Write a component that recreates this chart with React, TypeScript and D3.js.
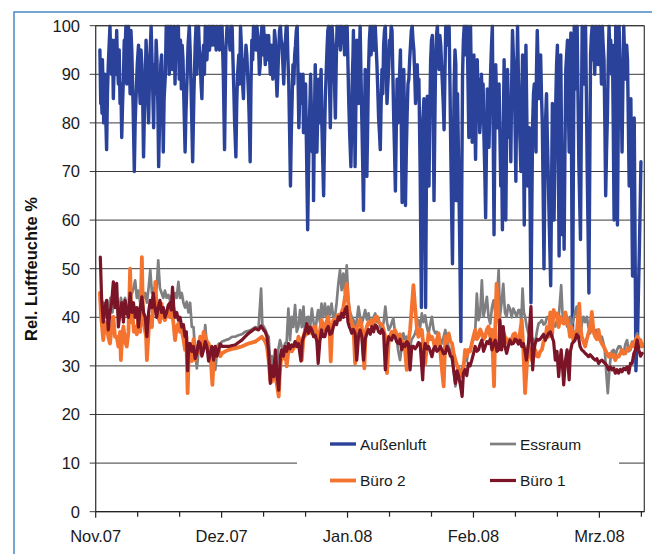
import React from 'react';
import * as d3 from 'd3';

// x values are days after 1 Nov 2007
const monthLabels = ['Nov.07', 'Dez.07', 'Jan.08', 'Feb.08', 'Mrz.08'];
const monthTickDays = [0, 30, 60, 90, 120];
const minorTickDays = [0, 10, 20, 30, 40, 50, 60, 70, 80, 90, 100, 110, 120, 130];
const yTicks = [0, 10, 20, 30, 40, 50, 60, 70, 80, 90, 100];
const seriesNames = ['Außenluft', 'Essraum', 'Büro 2', 'Büro 1'];
const seriesColors = ['#2a429a', '#7f7f82', '#f4732f', '#7b1426'];

const aussenluft: [number, number][] = [
  [1.0,95],[1.2,84],[1.3,88],[1.5,82],[1.6,93],[1.8,86],[1.9,80],[2.2,90],[2.4,81],[2.6,74.5],[2.8,86],[3.0,92],[3.2,96],[3.4,100],[3.6,92],[3.8,90],[4.0,97],[4.2,85],[4.4,92],[4.6,97],[4.8,90],[5.0,99],[5.2,92],[5.4,88],[5.6,95],[5.8,84],[6.0,88],[6.2,77],[6.4,84],[6.6,89],[6.8,97],[7.0,95],[7.2,100],[7.4,88],[7.6,96],[7.8,100],[8.0,93],[8.2,86],[8.4,99],[8.6,95],[8.9,84],[9.2,70],[9.4,80],[9.6,85],[9.9,92],[10.2,96],[10.4,88],[10.6,84],[10.8,95],[11.0,92],[11.2,85],[11.4,73],[11.6,82],[11.8,88],[12.0,97],[12.2,92],[12.4,86],[12.6,80],[12.9,93],[13.2,100],[13.5,90],[13.8,79],[14.0,92],[14.2,86],[14.4,97],[14.6,93],[14.8,84],[15.0,71],[15.2,80],[15.4,85],[15.5,92],[15.7,94],[15.9,86],[16.1,74],[16.3,85],[16.6,90],[16.8,100],[17.0,97],[17.3,100],[17.5,90],[17.7,92],[17.9,100],[18.1,99],[18.3,91],[18.5,96],[18.7,100],[18.9,88],[19.1,97],[19.3,95],[19.5,100],[19.7,100],[19.9,89],[20.0,93],[20.2,97],[20.4,87],[20.6,96],[20.8,93],[21.0,85],[21.3,74],[21.5,82],[21.8,90],[22.0,96],[22.3,100],[22.5,95],[22.7,88],[22.9,80],[23.1,72],[23.4,86],[23.7,96],[23.9,100],[24.1,90],[24.3,98],[24.5,100],[24.7,95],[24.9,93],[25.1,88],[25.3,85],[25.5,93],[25.7,96],[25.9,90],[26.1,100],
  [26.3,97],[26.5,93],[26.7,98],[26.9,100],[27.1,95],[27.3,97],[27.5,100],[27.7,96],[27.9,99],[28.1,100],[28.3,96],[28.5,99],[28.7,95],[28.9,100],[29.1,97],[29.3,98],[29.5,95],[29.7,100],[29.9,97],[30.1,100],[30.4,90],[30.7,74.5],[31.0,95],[31.3,100],[31.5,97],[31.8,98],[32.0,95],[32.2,100],[32.5,100],[32.7,93],[32.9,87],[33.1,80],[33.4,73],[33.6,84],[33.8,90],[34.1,94],[34.3,88],[34.5,100],[34.7,96],[34.9,92],[35.0,88],[35.2,85],[35.4,93],[35.6,91],[35.8,96],[36.0,94],[36.2,90],[36.4,86],[36.6,80],[36.8,72],[37.0,88],[37.2,97],[37.4,93],[37.6,100],[37.8,97],[38.0,99],[38.2,95],[38.4,100],[38.6,98],[38.8,96],[39.0,90],[39.2,92],[39.4,97],[39.6,100],[39.8,94],[40.0,100],[40.2,96],[40.4,92],[40.6,98],[40.8,97],[41.0,93],[41.2,98],[41.4,94],[41.6,90],[41.8,96],[42.0,95],[42.2,89],[42.4,92],[42.6,99],[42.8,97],[43.0,90],[43.2,85.5],[43.4,90],[43.6,95],[43.8,99],[44.0,100],[44.2,97],[44.4,96],[44.6,92],[44.8,88],[45.0,94],[45.2,97],[45.4,100],[45.6,100],[45.8,93],[46.0,88],[46.2,78],[46.4,67],[46.6,78],[46.8,85],[47.0,92],[47.2,88],[47.4,94],[47.6,96],[47.8,99],[48.0,100],[48.2,90],[48.4,79],[48.6,85],[48.8,90],[49.0,87],[49.2,84],[49.4,90],[49.5,78],[49.7,86],[49.8,83],[50.0,88],[50.2,76],[50.5,58],[50.7,70],[50.9,80],[51.1,86],[51.2,90],[51.4,82],[51.6,74],[51.8,80],[51.9,64],[52.1,80],[52.3,92],
  [52.5,84],[52.7,74],[52.9,82],[53.1,89],[53.3,80],[53.5,86],[53.7,91],[53.9,79],[54.1,72],[54.3,65],[54.5,76],[54.7,85],[54.9,90],[55.1,95],[55.3,99],[55.5,100],[55.7,88],[55.9,79],[56.1,90],[56.3,100],[56.5,97],[56.7,95],[56.9,88],[57.1,81],[57.3,92],[57.5,100],[57.7,98],[57.9,96],[58.1,100],[58.3,95],[58.5,99],[58.7,100],[58.9,97],[59.1,98],[59.3,94],[59.5,100],[59.7,97],[59.9,100],[60.1,92],[60.3,84],[60.5,78],[60.8,71],[61.0,80],[61.1,88],[61.3,94],[61.4,99],[61.6,85],[61.8,71],[62.0,85],[62.2,97],[62.4,90],[62.6,84],[62.8,93],[63.0,100],[63.2,90],[63.4,81],[63.6,72],[63.8,62],[64.0,78],[64.2,91],[64.4,80],[64.6,69],[64.8,80],[65.0,91],[65.2,97],[65.4,100],[65.6,94],[65.8,97],[66.0,100],[66.2,95],[66.4,99],[66.6,100],[66.8,96],[67.0,92],[67.2,87],[67.4,81],[67.6,78],[67.8,74.5],[68.0,84],[68.2,91],[68.4,86],[68.6,96],[68.8,99],[69.0,100],[69.2,92],[69.4,84],[69.6,88],[69.8,91],[70.0,97],[70.2,96],[70.4,100],[70.6,99],[70.8,90],[71.0,81],[71.2,74],[71.4,66],[71.6,78],[71.8,89],[72.0,80],[72.2,84],[72.4,90],[72.6,95],[72.8,80],[73.0,63.6],[73.2,78],[73.4,91],[73.6,78],[73.8,63],[74.0,74],[74.2,82],[74.4,88],[74.6,89],[74.8,93],[75.0,96],[75.2,99],[75.4,100],[75.6,97],[75.8,95],[76.0,90],[76.2,84],[76.4,88],[76.6,92],[76.8,85],[77.0,89],[77.3,70],[77.6,42],[77.9,80],[78.2,85],[78.4,70],[78.6,42],
  [78.8,70],[79.0,85.5],[79.2,78],[79.4,67],[79.6,82],[79.8,93],[80.0,97],[80.2,98],[80.4,82],[80.6,64],[80.8,80],[81.0,94],[81.2,98],[81.4,100],[81.6,95],[81.8,91],[82.0,98],[82.2,96],[82.4,92],[82.6,88],[82.8,84],[83.0,78.6],[83.2,90],[83.4,100],[83.6,96],[83.8,97],[84.0,100],[84.2,100],[84.4,88],[84.6,74],[84.8,62],[85.0,51],[85.2,72],[85.4,88],[85.6,95],[85.8,92],[85.9,64],[86.0,75],[86.2,86],[86.4,75],[86.6,63],[86.8,50],[87.0,35],[87.2,65],[87.4,90],[87.6,97],[87.8,100],[88.0,94],[88.1,96],[88.3,100],[88.5,100],[88.7,88],[88.9,77],[89.1,90],[89.3,100],[89.5,88],[89.7,76],[89.9,86],[90.1,94],[90.3,82],[90.5,72.5],[90.7,84],[90.9,93],[91.1,85],[91.3,89],[91.5,78],[91.7,81],[91.9,90],[92.1,84],[92.3,88],[92.5,77],[92.7,70],[92.9,60.5],[93.1,75],[93.3,87],[93.5,80],[93.7,75],[93.9,84],[94.1,91],[94.3,96],[94.5,100],[94.7,78],[94.9,57],[95.1,78],[95.3,92],[95.5,85],[95.7,79],[95.9,84],[96.1,88],[96.3,78],[96.5,67],[96.7,74],[96.9,58],[97.1,78],[97.3,93],[97.5,76],[97.7,60],[97.9,78],[98.1,91],[98.3,84],[98.5,77],[98.7,84],[98.9,72],[99.1,88],[99.3,99],[99.5,94],[99.7,91],[99.9,80],[100.1,68],[100.3,86],[100.5,100],[100.7,90],[100.9,81],[101.1,76],[101.3,70],[101.5,84],[101.7,94],[101.9,78],[102.1,59],[102.3,80],[102.5,96],[102.7,82],[102.9,67],[103.1,73],[103.3,79],[103.5,62],[103.7,43],[103.9,62],[104.1,80],[104.3,86],[104.5,88],[104.7,80],[104.9,74],
  [105.0,90],[105.2,99],[105.4,92],[105.6,85],[105.8,90],[106.0,94],[106.2,86],[106.4,80],[106.6,66],[106.8,50],[107.0,68],[107.2,81],[107.4,86],[107.6,77],[107.8,70],[108.0,61.5],[108.2,54],[108.4,46.5],[108.6,66],[108.8,84],[109.0,72],[109.2,60],[109.4,72],[109.6,84],[109.8,92],[110.0,96],[110.2,76],[110.4,52.6],[110.6,75],[110.8,94],[111.0,75],[111.2,57],[111.4,70],[111.6,54],[111.8,75],[112.0,91],[112.2,94],[112.4,97],[112.6,84],[112.8,74],[113.0,88],[113.2,98.5],[113.4,68],[113.6,36],[113.8,70],[114.0,100],[114.2,92],[114.3,87],[114.5,95],[114.7,100],[114.9,86],[115.1,72],[115.3,64],[115.5,56],[115.7,80],[115.9,100],[116.1,94],[116.3,88],[116.5,95],[116.7,100],[116.9,86],[117.1,70],[117.3,58],[117.5,45],[117.7,70],[117.9,94],[118.1,98],[118.3,100],[118.5,93],[118.7,96],[118.9,90],[119.1,100],[119.3,94],[119.5,97],[119.7,92],[119.9,100],[120.1,96],[120.3,94],[120.5,88],[120.7,100],[120.9,96],[121.1,93],[121.3,80],[121.5,65],[121.7,74],[121.9,81],[122.1,92],[122.3,100],[122.5,95],[122.7,97],[122.9,90],[123.1,96],[123.3,80],[123.5,60],[123.7,80],[123.9,100],[124.1,80],[124.3,59],[124.5,80],[124.7,100],[124.9,92],[125.1,84],[125.3,80],[125.4,74],[125.6,88],[125.8,100],[126.0,94],[126.3,89],[126.5,96],[126.7,93],[126.9,80],[127.1,67],[127.3,76],[127.5,85],[127.7,66],[127.9,48.5],[128.1,66],[128.3,81],[128.5,55],[128.7,29],[128.9,34],[129.1,36],[129.3,45],[129.5,53],[129.7,62],[129.9,72]
];

const essraum: [number, number][] = [
  [1.0,44],[1.5,41],[2.0,43],[2.5,40],[3.0,42],[3.5,44],[4.0,41],[4.5,45],[5.0,43],[5.5,40],[6.0,44],[6.5,42],[7.0,44],[7.5,41],[8.0,43],[8.5,44.5],[9.0,46],[9.4,47.6],[9.8,44],[10.2,45.5],[10.6,43],[11.0,46],[11.4,44],[11.8,45],[12.2,43],[12.6,46],[13.0,49.7],[13.4,45],[13.8,46],[14.2,44],[14.6,47],[14.9,51.7],[15.3,46],[15.7,45],[16.1,44],[16.5,45.5],[16.9,44],[17.3,44.6],[17.7,43.5],[18.1,44.5],[18.5,43],[18.9,45],[19.3,44],[19.7,47.3],[20.1,44],[20.5,45],[20.9,43],[21.3,42],[21.7,43.2],[22.1,41],[22.5,43],[22.9,38],[23.3,38],[23.7,33],[24.1,29.5],[24.5,33],[24.9,35.3],[25.3,33],[25.7,34.5],[26.1,38.4],[26.5,34],[26.9,33],[27.3,32.6],[27.7,34],[28.1,31],[28.5,29.2],[28.9,33],[29.3,34.6],[29.7,34.6],[30.1,35],[30.9,35.3],[31.7,35.5],[32.5,36],[33.2,36],[34.0,36.3],[34.8,36.5],[35.6,37],[36.4,37.2],[37.2,37.5],[38.0,38],[38.8,37.8],[39.4,45.9],[39.7,38.5],[40.0,38.1],[40.4,37.5],[40.8,36.5],[41.2,36],[41.6,30],[42.0,32],[42.4,29],[42.8,31],[43.2,30],
  [43.5,33.3],[43.9,35.3],[44.3,34],[44.7,33],[45.1,34.6],[45.5,35],[45.9,41.8],[46.3,35.3],[46.7,40.1],[47.1,38],[47.5,42.5],[47.9,37],[48.3,38.1],[48.7,41.5],[49.1,38],[49.5,42.2],[49.9,36],[50.3,40],[50.7,40.1],[51.1,38],[51.5,41.8],[51.9,39],[52.3,36.7],[52.7,40],[53.0,41.5],[53.4,39],[53.8,42.8],[54.2,40],[54.6,42.8],[55.0,40],[55.4,42.2],[55.8,40.5],[56.2,42.8],[56.6,40],[57.0,40.1],[57.4,43],[57.8,46.9],[58.2,49.7],[58.6,45.6],[59.0,49],[59.4,44.9],[59.8,50.7],[60.2,43.5],[60.6,41],[61.0,40.1],[61.4,39.5],[61.8,38.1],[62.2,39.5],[62.6,42.2],[63.0,40],[63.4,38.7],[63.8,40],[64.2,41.5],[64.6,39.5],[65.0,40.8],[65.4,39],[65.8,38.7],[66.2,40],[66.6,40.8],[67.0,39],[67.4,39.8],[67.8,38],[68.2,37.4],[68.6,39],[69.0,42.2],[69.4,39],[69.8,37.4],[70.2,38],[70.9,39.8],[71.3,37],[71.7,35.3],[72.1,33],[72.5,31.2],[72.9,34],[73.3,36.7],[73.7,35.5],[74.1,36],[74.5,35],[74.9,34],[75.3,35.5],[75.7,36],[76.1,36.7],[76.5,38],[76.9,39.4],[77.3,38],[77.7,40.8],[78.1,39],[78.5,40.4],[78.9,38],[79.3,36.7],[79.7,38.5],[80.1,40.1],[80.5,37.5],[80.9,36.7],[81.3,37],[81.7,36],[82.1,35.5],[82.5,34.6],[82.9,36],[83.3,37.4],[83.7,35],[84.1,34],[84.5,33],[84.9,31.2],[85.3,29],[85.7,25.8],[86.1,28],[86.5,29.9],[86.9,28],[87.3,29.5],
  [87.6,30.5],[88.0,31.2],[88.4,31],[88.8,33.3],[89.2,33],[89.6,34.6],[90.0,35.5],[90.4,36.7],[90.8,44.9],[91.2,39.4],[91.6,40.5],[92.0,47.6],[92.4,40.1],[92.8,42],[93.2,44.2],[93.6,40],[94.0,38.7],[94.4,42],[94.8,43.5],[95.2,41],[95.6,43.5],[96.0,49.7],[96.3,40.1],[96.7,43],[97.1,46.9],[97.5,41],[97.9,40.1],[98.3,42.5],[98.7,41.8],[99.1,40],[99.5,41.8],[99.9,41],[100.3,40.1],[100.7,41.5],[101.1,41.5],[101.4,39],[101.7,45.9],[102.0,41],[102.3,40.1],[102.7,38],[103.1,36.7],[103.5,37.5],[103.8,36],[104.2,35.5],[104.7,34.6],[105.1,37],[105.5,38.7],[105.9,39],[106.3,39.4],[106.7,38.5],[107.1,38.7],[107.5,40],[107.9,40.1],[108.3,39],[108.7,39.1],[109.1,38.5],[109.5,38.1],[109.9,39.5],[110.3,40.1],[110.6,43],[110.9,46.6],[111.2,41],[111.5,38.7],[111.9,39.5],[112.3,38.1],[112.7,39],[113.0,40.1],[113.4,38.5],[113.8,39.4],[114.2,41],[114.6,42.2],[115.0,38],[115.4,36],[115.8,38.5],[116.2,40.1],[116.6,39],[117.0,40.1],[117.4,38],[117.8,36.7],[118.2,38],[118.6,38.1],[119.0,36.5],[119.4,37.4],[119.8,36],[120.2,35.3],[120.6,36],[121.0,34.6],[121.3,33],[121.6,29.2],[122.0,24.4],[122.3,28],[122.6,31.2],[123.0,33],[123.4,33.3],[123.8,32],[124.2,33.3],[124.6,34],[125.0,34],[125.4,32.5],[125.8,32.6],[126.2,34.5],[126.6,35.3],[127.0,33],[127.4,33.3],[127.8,35],[128.2,34.6],[128.6,35.5],[129.0,36.7],[129.4,34],[129.8,34],[130.2,34.6]
];

const buero2: [number, number][] = [
  [1.0,45],[1.3,40],[1.8,35.3],[2.2,39],[2.6,38.1],[3.0,36],[3.4,34.6],[3.8,38],[4.2,40.1],[4.6,36],[5.0,36],[5.4,34],[5.8,37],[6.0,31.2],[6.3,36],[6.6,38.1],[7.0,35],[7.4,34],[7.8,37],[8.2,50],[8.5,39],[8.8,40.1],[9.1,37],[9.4,38.1],[9.8,36.5],[10.2,40.1],[10.6,37],[11.0,52.4],[11.3,39],[11.6,38.1],[12.0,36],[12.2,31.2],[12.6,37],[13.0,40.1],[13.4,38],[13.7,44.2],[14.0,42],[14.2,47.3],[14.6,41],[14.9,40.1],[15.3,39],[15.7,42.8],[16.1,40],[16.5,39.4],[16.9,40.5],[17.3,42.2],[17.7,40],[18.1,41.5],[18.5,39],[18.9,35.3],[19.3,38],[19.7,38.7],[20.1,37],[20.5,37.4],[20.9,35.5],[21.3,33.3],[21.6,36],[21.9,24.4],[22.2,33],[22.5,33.3],[22.9,31],[23.3,35.5],[23.7,31.2],[24.1,34],[24.5,32.6],[24.9,36],[25.3,33.3],[25.7,37],[26.1,36],[26.5,35],[26.9,34.6],[27.3,33],[27.8,26.1],[28.1,31],[28.5,31.9],[28.9,34],[29.3,33.3],[29.7,32],[30.1,32.6],[30.9,33],[31.7,33.3],[32.5,33.5],[33.2,33.6],[34.0,33.8],[34.8,34],[35.6,34.3],[36.4,34.6],[37.2,34.8],[38.0,35],[38.8,35.5],[39.6,36],[40.0,35.5],[40.4,35],[40.8,34],[41.2,31.2],[41.6,27],[42.0,26.8],[42.4,28],[42.8,27.8],[43.2,26],[43.6,23.7],[43.9,29],
  [44.3,32.6],[44.7,31.5],[45.1,33.3],[45.5,29.9],[45.9,33],[46.3,34],[46.7,33],[47.1,33.5],[47.5,34.6],[47.9,34],[48.3,36],[48.7,35],[49.1,31.2],[49.5,36],[49.9,37.4],[50.3,36.5],[50.7,38.1],[51.1,37],[51.5,36.7],[51.9,38],[52.3,38.1],[52.7,36.5],[53.0,33.3],[53.4,37],[53.8,39.4],[54.2,38.5],[54.6,37.4],[55.0,39],[55.4,40.1],[55.7,38],[56.0,30.9],[56.3,37],[56.6,39.4],[57.0,39],[57.4,40.1],[57.8,40.5],[58.2,39.5],[58.6,41.1],[59.0,42],[59.4,44.2],[59.8,46.9],[60.2,42.8],[60.6,40],[61.0,38.7],[61.4,38],[61.8,30.5],[62.2,37],[62.6,38.7],[63.0,39.5],[63.4,38.1],[64.0,29.5],[64.3,37],[64.6,38.1],[65.0,39],[65.4,38.5],[65.8,39.4],[66.2,38.7],[66.6,40],[67.0,40.1],[67.4,39],[67.8,38.7],[68.2,38.5],[68.6,37.4],[69.0,36],[69.4,28.5],[69.8,35],[70.1,36],[70.5,37],[70.9,36.7],[71.3,37.4],[71.7,36.5],[72.1,36],[72.5,36.5],[72.9,34.6],[73.3,35],[73.7,33.3],[74.1,29.2],[74.5,35],[74.9,37.4],[75.3,42],[75.7,46.6],[76.0,43],[76.3,40.1],[76.6,37],[76.9,36],[77.3,37.4],[77.7,37.4],[78.1,34],[78.5,30.5],[78.9,34],[79.3,36.7],[79.7,35.5],[80.1,36],[80.5,35],[80.9,33.3],[81.3,35.5],[81.7,36.7],[82.1,33],[82.5,29.2],[82.9,25.8],[83.3,36],[83.7,35],[84.1,36.7],[84.5,35],[84.9,34.6],[85.3,32.5],[85.7,31.2],[86.1,30],[86.5,29.2],[86.9,28],[87.3,27.8],
  [87.6,29.2],[88.0,33.3],[88.4,32],[88.8,33.3],[89.2,33],[89.6,34.6],[90.0,36],[90.4,37.4],[90.8,35.5],[91.2,36],[91.6,37.5],[92.0,36.7],[92.4,35.5],[92.8,36],[93.2,37.5],[93.6,38.1],[94.0,36],[94.4,37.4],[94.9,25.8],[95.2,38],[95.5,46.9],[95.8,43],[96.0,40.1],[96.3,38],[96.7,36.7],[97.1,37],[97.5,36],[97.9,35.5],[98.3,34.6],[98.7,35.5],[99.1,35.3],[99.5,36.5],[99.9,36.7],[100.3,35],[100.7,35.3],[101.1,37],[101.5,39.4],[101.9,33],[102.3,24.4],[102.7,30],[103.1,34],[103.5,33],[103.9,31.2],[104.3,32],[104.7,33.3],[105.1,32],[105.5,31.9],[105.9,33],[106.3,33.3],[106.7,35],[107.1,35.3],[107.5,38],[107.9,36],[108.3,41],[108.7,36],[109.1,41.5],[109.5,40.1],[109.9,40.8],[110.3,38],[110.7,40.1],[111.1,39],[111.5,38.7],[111.9,41],[112.3,39.4],[112.7,38],[113.0,36],[113.4,38],[113.8,35.3],[114.2,37],[114.6,36.7],[115.2,42.8],[115.5,38],[115.8,36],[116.2,35],[116.6,34],[117.0,35.5],[117.4,36.7],[117.8,38],[118.2,41.1],[118.6,37],[119.0,36],[119.4,35.5],[119.8,37.4],[120.2,35.3],[120.6,34.6],[121.0,34],[121.4,33.3],[121.8,32.6],[122.2,31.9],[122.6,32.5],[123.0,31.9],[123.4,32.3],[123.8,31.2],[124.2,32],[124.6,31.9],[125.0,32.6],[125.4,33.3],[125.8,32.5],[126.2,32.6],[126.6,33.5],[127.0,33.3],[127.4,33.8],[127.8,34.6],[128.2,34],[128.6,35.3],[129.0,36],[129.4,35.5],[129.8,35.3],[130.2,34]
];

const buero1: [number, number][] = [
  [1.1,52.4],[1.4,44],[1.8,39],[2.2,42],[2.6,43.5],[3.0,37.4],[3.4,41],[3.8,43],[4.2,47.3],[4.6,42],[5.0,47],[5.4,38],[5.8,41],[6.2,43],[6.6,39],[7.0,43.5],[7.4,41],[7.8,40],[8.2,45],[8.6,41],[9.0,43],[9.4,40],[9.8,42],[10.2,38],[10.6,42],[11.0,44.2],[11.4,41],[11.8,40],[12.2,36],[12.6,41],[13.0,43.5],[13.4,42],[13.7,45],[14.1,42],[14.5,40],[14.9,42],[15.3,43.5],[15.7,41],[16.1,42],[16.5,40],[16.9,41],[17.3,42.5],[17.7,43],[18.0,41.5],[18.3,46.2],[18.6,42],[18.9,40],[19.3,41],[19.7,39.4],[20.1,40],[20.5,38],[20.9,38.5],[21.3,36],[21.6,37],[21.9,29],[22.2,34.6],[22.5,34.6],[22.9,33],[23.3,34],[23.7,31.5],[24.1,32.6],[24.5,35],[24.9,34.6],[25.3,32],[25.7,33.3],[26.1,35],[26.5,34],[26.9,31],[27.3,32.6],[27.7,34],[28.1,31.2],[28.5,34],[28.9,32],[29.3,33.3],[29.7,34.5],[30.1,34],[30.9,34],[31.7,34],[32.5,34.2],[33.2,34.3],[34.0,34.8],[34.8,35.3],[35.6,36],[36.4,36.7],[37.2,37.2],[38.0,37.7],[38.8,37.4],[39.4,38.2],[40.0,37.4],[40.4,37],[40.8,36],[41.2,33],[41.6,26.4],[42.0,30],[42.4,27.8],[42.8,33.3],[43.2,28],[43.6,25],[44.0,32],
  [44.3,33.3],[44.7,32],[45.1,34],[45.5,33],[45.9,34.6],[46.3,33.5],[46.7,34.3],[47.1,34],[47.5,35],[47.9,34],[48.3,34.6],[48.9,31],[49.2,35],[49.5,36],[49.9,37],[50.3,38.7],[50.7,36.7],[51.1,38],[51.5,37.4],[51.9,36],[52.3,36.3],[52.7,35],[53.0,30.5],[53.4,35],[53.8,37.4],[54.2,36],[54.6,36],[55.0,37.5],[55.4,38.1],[55.8,36.5],[56.2,36.7],[56.6,38],[57.0,39.1],[57.4,38.5],[57.8,40.1],[58.2,39.5],[58.6,40.8],[59.0,40],[59.4,41.5],[59.8,42.2],[60.1,39],[60.4,38.1],[60.7,37.5],[61.0,36.7],[61.4,37.5],[61.8,36.7],[62.2,31.2],[62.6,36],[63.0,37.4],[63.4,36],[63.8,31.2],[64.2,35.5],[64.6,36.7],[65.0,37.5],[65.4,36.5],[65.8,38.1],[66.2,37],[66.6,38.4],[67.0,38.1],[67.4,37],[67.8,36.7],[68.2,37.5],[68.6,36.7],[69.0,29.2],[69.4,34],[69.8,36],[70.1,35.5],[70.5,35.3],[70.9,36.3],[71.3,36],[71.7,35],[72.1,34.6],[72.5,35.5],[72.9,33.3],[73.3,34.5],[73.7,34],[74.1,35],[74.5,34.6],[74.9,29.2],[75.3,34],[75.7,34],[76.1,33.5],[76.5,34],[76.9,34.8],[77.3,34.6],[77.9,27.1],[78.2,33],[78.5,34.6],[78.9,33.5],[79.3,34],[79.7,33],[80.1,31.9],[80.5,33.5],[80.9,34],[81.3,33],[81.7,33.3],[82.1,34],[82.5,33.3],[82.9,32.5],[83.3,32.6],[83.7,34],[84.1,33.3],[84.5,32],[84.9,31.9],[85.3,29],[85.7,26.4],[86.1,29],[86.5,27.8],[86.9,26],[87.3,23.7],
  [87.6,28.5],[88.0,29.2],[88.4,28],[88.8,30.5],[89.2,30],[89.6,31.2],[90.0,32.5],[90.4,34],[90.8,33],[91.2,33.3],[91.6,34.5],[92.0,35.3],[92.4,33],[92.8,34],[93.2,35],[93.6,34.6],[94.0,35.5],[94.4,33.3],[94.8,34.5],[95.2,35.3],[95.6,33],[96.0,33.3],[96.3,39.5],[96.7,33.3],[97.1,38.1],[97.5,34],[97.9,32.6],[98.3,34],[98.7,35.3],[99.1,34.5],[99.5,34.6],[99.9,35.5],[100.3,35.3],[100.7,34.5],[101.1,35.3],[101.5,34],[101.9,34.6],[102.3,33],[102.6,31.2],[103.1,34.6],[103.7,42.2],[104.1,29.2],[104.4,33],[104.7,34.6],[105.1,35.5],[105.5,35.3],[105.9,35.5],[106.3,36],[106.7,36.5],[107.1,35.3],[107.5,36],[107.9,36.7],[108.3,37],[108.7,36],[109.1,35],[109.5,31.2],[109.9,33],[110.3,27.8],[110.6,31],[110.9,33.3],[111.2,30],[111.5,26.1],[111.9,31],[112.3,33.3],[112.8,27.1],[113.1,33],[113.5,34.6],[113.9,35],[114.2,35.3],[114.6,36.5],[115.0,36],[115.4,34],[115.8,33.3],[116.2,33],[116.6,32.6],[117.0,32.3],[117.4,31.9],[117.8,32.3],[118.2,31.9],[118.6,31.5],[119.0,31.2],[119.4,31.5],[119.8,30.5],[120.2,31],[120.6,31.2],[121.0,30.8],[121.4,30.5],[121.8,30],[122.2,29.2],[122.6,29.8],[123.0,29.2],[123.4,29.6],[123.8,28.5],[124.2,29.2],[124.6,28.5],[125.0,29.3],[125.4,28.8],[125.8,29.5],[126.2,29.2],[126.6,29.8],[127.0,28.5],[127.4,30.5],[127.8,30.5],[128.2,32.5],[128.6,33.3],[129.0,35.3],[129.4,33.3],[129.8,32],[130.2,32.6]
];

const W = 652;
const H = 554;
const L = 95.7;
const R = 644.3;
const T = 25.7;
const B = 511.7;
const FONT = 'Liberation Sans, Arial, Helvetica, sans-serif';

export default function App() {
  const x = d3.scaleLinear().domain([0, 130.7]).range([L, R]);
  const y = d3.scaleLinear().domain([0, 100]).range([B, T]);
  const line = d3
    .line<[number, number]>()
    .x((d) => x(d[0]))
    .y((d) => y(d[1]));

  const series = [aussenluft, essraum, buero2, buero1];
  const widths = [3.4, 2.7, 3.8, 3.2];

  const legendPos = [
    { lx: 330, ty: 444 },
    { lx: 490, ty: 444 },
    { lx: 330, ty: 480.5 },
    { lx: 490, ty: 480.5 },
  ];

  return (
    <svg
      width={W}
      height={H}
      style={{ position: 'absolute', left: 0, top: 0, background: '#fff' }}
      fontFamily={FONT}
    >
      <defs>
        <clipPath id="plotclip">
          <rect x={L} y={T - 1} width={R - L} height={B - T + 1} />
        </clipPath>
      </defs>
      <rect x={0} y={0} width={W} height={H} fill="#fff" />
      <rect x={14} y={12} width={W} height={H} fill="none" stroke="#4a86c5" strokeWidth={1.5} />

      {/* gridlines + y ticks */}
      {yTicks.map((t) => (
        <line key={'g' + t} x1={L - 6} x2={R} y1={y(t)} y2={y(t)} stroke="#3a3a3a" strokeWidth={1} />
      ))}
      {yTicks.map((t) => (
        <text
          key={'yl' + t}
          x={80}
          y={y(t)}
          dy="0.36em"
          textAnchor="end"
          fontSize={16.5}
          fill="#1a1a1a"
        >
          {t}
        </text>
      ))}

      {/* series */}
      <g clipPath="url(#plotclip)">
        {series.map((s, i) => (
          <path
            key={'s' + i}
            d={line(s) || ''}
            fill="none"
            stroke={seriesColors[i]}
            strokeWidth={widths[i]}
            strokeLinejoin="round"
            strokeLinecap="round"
          />
        ))}
      </g>

      {/* legend */}
      <rect x={297} y={424} width={322} height={76} fill="#fff" />
      {seriesNames.map((n, i) => (
        <g key={'lg' + i}>
          <line
            x1={legendPos[i].lx}
            x2={legendPos[i].lx + 26}
            y1={legendPos[i].ty}
            y2={legendPos[i].ty}
            stroke={seriesColors[i]}
            strokeWidth={widths[i]}
          />
          <text x={legendPos[i].lx + 30} y={legendPos[i].ty} dy="0.36em" fontSize={15.5} fill="#1a1a1a">
            {n}
          </text>
        </g>
      ))}

      {/* plot frame */}
      <line x1={L} x2={R} y1={T} y2={T} stroke="#3a3a3a" strokeWidth={1.2} />
      <line x1={R} x2={R} y1={T} y2={B} stroke="#3a3a3a" strokeWidth={1.2} />
      <line x1={L} x2={L} y1={T} y2={B} stroke="#3a3a3a" strokeWidth={1.3} />
      <line x1={L} x2={R} y1={B} y2={B} stroke="#222" strokeWidth={1.3} />

      {/* x ticks */}
      {minorTickDays.map((d) => (
        <line
          key={'xt' + d}
          x1={x(d)}
          x2={x(d)}
          y1={B}
          y2={B + (monthTickDays.includes(d) ? 6 : 5)}
          stroke="#222"
          strokeWidth={1.2}
        />
      ))}
      {monthTickDays.map((d, i) => (
        <text key={'xl' + d} x={x(d)} y={541.5} textAnchor="middle" fontSize={16.5} fill="#1a1a1a">
          {monthLabels[i]}
        </text>
      ))}

      {/* y title */}
      <text
        transform={`translate(37, 269) rotate(-90)`}
        textAnchor="middle"
        fontSize={16.5}
        fontWeight="bold"
        fill="#111"
      >
        Rel. Luftfeuchte %
      </text>
    </svg>
  );
}
